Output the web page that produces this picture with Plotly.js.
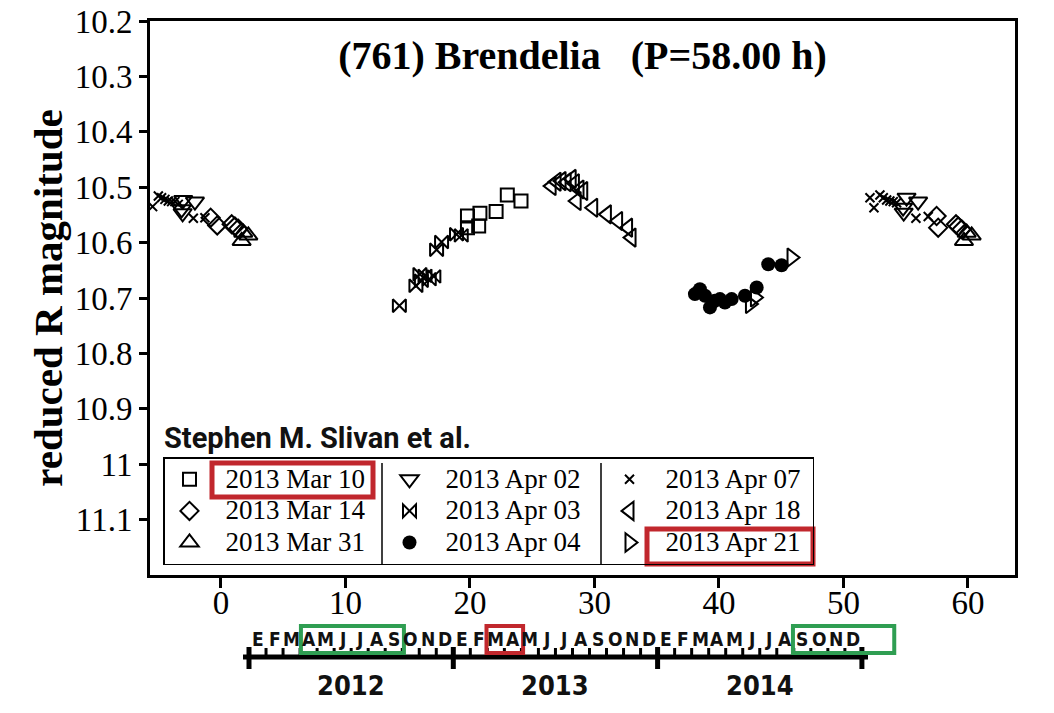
<!DOCTYPE html>
<html><head><meta charset="utf-8">
<script src="https://cdn.plot.ly/plotly-3.0.1.min.js"></script>
<style>html,body{margin:0;padding:0;background:#fff}#chart{width:1054px;height:713px}</style>
</head><body><div id="chart"></div>
<script>
// ---------------- data (rotational phase in hours, reduced R magnitude) ----------------
const mar10_x = [19.8, 19.8, 20.7, 20.8, 22.1, 23.0, 24.1];
const mar10_y = [10.552, 10.573, 10.570, 10.547, 10.544, 10.514, 10.525];

const mar14_x = [-0.83, -0.3, 0.86, 1.12, 1.39, 57.48, 57.61, 59.04, 59.22, 59.49];
const mar14_y = [10.555, 10.569, 10.567, 10.571, 10.575, 10.552, 10.573, 10.567, 10.571, 10.576];

const mar31_x = [1.79, 2.2, 1.66, 59.9, 60.3, 59.68];
const mar31_y = [10.582, 10.587, 10.597, 10.582, 10.587, 10.597];

const apr02_x = [-3.03, -2.09, -3.16, -3.08, 55.07, 56.0, 54.79, 54.84];
const apr02_y = [10.523, 10.526, 10.540, 10.547, 10.519, 10.526, 10.537, 10.546];

const apr03_x = [14.33, 15.66, 15.98, 16.10, 16.39, 16.73, 17.10, 17.32, 17.72, 18.92, 19.3];
const apr03_y = [10.714, 10.678, 10.657, 10.669, 10.660, 10.666, 10.661, 10.613, 10.599, 10.585, 10.587];

const apr04_x = [38.07, 38.47, 38.88, 39.28, 39.68, 40.08, 40.48, 41.02, 42.09, 43.03, 43.96, 45.03];
const apr04_y = [10.693, 10.684, 10.696, 10.717, 10.705, 10.702, 10.708, 10.702, 10.696, 10.681, 10.639, 10.641];

const apr07_x = [-5.49, -5.03, -4.77, -4.5, -4.23, -3.96, -3.7, -3.43, -2.22, -1.29,
                 52.13, 52.45, 52.93, 53.2, 53.47, 53.73, 54.0, 54.27, 55.82, 56.81];
const apr07_y = [10.535, 10.516, 10.519, 10.522, 10.525, 10.526, 10.526, 10.531, 10.556, 10.555,
                 10.519, 10.537, 10.514, 10.519, 10.523, 10.525, 10.526, 10.528, 10.556, 10.553];

const apr18_x = [26.56, 26.96, 27.36, 27.77, 28.17, 28.43, 28.57, 28.8, 29.1, 29.9, 31.0, 31.9, 32.7, 32.98];
const apr18_y = [10.498, 10.490, 10.489, 10.491, 10.485, 10.493, 10.525, 10.504, 10.507, 10.537, 10.549, 10.561, 10.573, 10.591];

const apr21_x = [42.49, 42.89, 45.83];
const apr21_y = [10.711, 10.699, 10.627];

const xTickVals = [0, 10, 20, 30, 40, 50, 60];
const yTickVals = [10.2, 10.3, 10.4, 10.5, 10.6, 10.7, 10.8, 10.9, 11.0, 11.1];
const yTickText = ['10.2', '10.3', '10.4', '10.5', '10.6', '10.7', '10.8', '10.9', '11', '11.1'];

const titleText = '(761) Brendelia\u00a0\u00a0\u00a0(P=58.00 h)';
const yTitleText = 'reduced R magnitude';
const authorText = 'Stephen M. Slivan et al.';

// observing-season timeline below the axis
const tlMonths = ['E', 'F', 'M', 'A', 'M', 'J', 'J', 'A', 'S', 'O', 'N', 'D'];
const tlYears = ['2012', '2013', '2014'];

// ---------------- layout helpers ----------------
const L = 150, T = 21, W = 865, H = 554;
const X = p => (p - L) / W;
const Y = p => (T + H - p) / H;
const RED = '#c1272d', GREEN = '#2f9e52';
const SERIF = 'Liberation Serif, Times New Roman, serif';
const NARROW = 'Liberation Sans Narrow, DejaVu Sans Condensed, Roboto, sans-serif';

function lg(name) { return '\u00a0\u00a0<span style="font-size:27px">' + name + '</span>'; }

function tr(x, y, name, symbol, size, rank, filled, lw) {
  const t = {
    type: 'scatter', mode: 'markers', x: x, y: y, name: lg(name), legendrank: rank,
    marker: {
      symbol: symbol, size: size, color: '#000',
      line: {color: '#000', width: filled ? 0 : 2}
    },
    hoverinfo: 'x+y'
  };
  if (lw) t.legendwidth = lw;
  return t;
}

const data = [
  tr(mar10_x, mar10_y, '2013 Mar 10', 'square-open', 13, 1),
  tr(apr02_x, apr02_y, '2013 Apr 02', 'triangle-down-open', 16, 2),
  tr(apr07_x, apr07_y, '2013 Apr 07', 'x-thin-open', 9, 3, false, 153),
  tr(mar14_x, mar14_y, '2013 Mar 14', 'diamond-open', 14, 4),
  tr(apr03_x, apr03_y, '2013 Apr 03', 'bowtie-open', 13, 5),
  tr(apr18_x, apr18_y, '2013 Apr 18', 'triangle-left-open', 16, 6, false, 153),
  tr(mar31_x, mar31_y, '2013 Mar 31', 'triangle-up-open', 16, 7),
  tr(apr04_x, apr04_y, '2013 Apr 04', 'circle', 14, 8, true),
  tr(apr21_x, apr21_y, '2013 Apr 21', 'triangle-right-open', 16, 9, false, 153)
];

const shapes = [];
const annotations = [];

// legend column dividers
[382, 601].forEach(px => shapes.push({type: 'line', xref: 'paper', yref: 'paper',
  x0: X(px), x1: X(px), y0: Y(463), y1: Y(565), line: {color: '#000', width: 1.5}, layer: 'above'}));
// red highlight boxes in legend
shapes.push({type: 'rect', xref: 'paper', yref: 'paper', x0: X(212), x1: X(373), y0: Y(497), y1: Y(463),
  line: {color: RED, width: 5}, layer: 'above'});
shapes.push({type: 'rect', xref: 'paper', yref: 'paper', x0: X(647), x1: X(813), y0: Y(564), y1: Y(529),
  line: {color: RED, width: 5}, layer: 'above'});

annotations.push({xref: 'paper', yref: 'paper', x: X(162), y: Y(438), xanchor: 'left', yanchor: 'middle',
  text: authorText, showarrow: false, font: {family: 'Roboto, DejaVu Sans, sans-serif', size: 29, color: '#111', weight: 'bold'}});

// timeline
const tlStart = 249, tlYearW = 204.3, tlMonthW = tlYearW / 12;
const tlLineY = 657;
shapes.push({type: 'line', xref: 'paper', yref: 'paper', x0: X(243), x1: X(868), y0: Y(tlLineY), y1: Y(tlLineY),
  line: {color: '#000', width: 5}});
for (let k = 0; k <= tlYears.length; k++) {
  const xp = tlStart + k * tlYearW;
  shapes.push({type: 'line', xref: 'paper', yref: 'paper', x0: X(xp), x1: X(xp), y0: Y(647), y1: Y(669),
    line: {color: '#000', width: 5}});
}
tlYears.forEach((yr, k) => {
  const ys = tlStart + k * tlYearW;
  annotations.push({xref: 'paper', yref: 'paper', x: X(ys + tlYearW / 2), y: Y(685), xanchor: 'center', yanchor: 'middle',
    text: yr, showarrow: false, font: {family: NARROW, size: 27, color: '#111', weight: 'bold'}});
  tlMonths.forEach((m, i) => {
    annotations.push({xref: 'paper', yref: 'paper', x: X(ys + (i + 0.5) * tlMonthW), y: Y(639), xanchor: 'center', yanchor: 'middle',
      text: m, showarrow: false, borderpad: 0, font: {family: NARROW, size: 19, color: '#111', weight: 'bold'}});
    if (i > 0) {
      const xp = ys + i * tlMonthW;
      shapes.push({type: 'line', xref: 'paper', yref: 'paper', x0: X(xp), x1: X(xp), y0: Y(648), y1: Y(655),
        line: {color: '#000', width: 3}});
    }
  });
});
// highlighted months (in month units from each year's start)
const tlBoxes = [
  {year: 0, from: 3.05, to: 9.1, color: GREEN},
  {year: 1, from: 1.95, to: 4.1, color: RED},
  {year: 2, from: 7.95, to: 13.9, color: GREEN}
];
tlBoxes.forEach(b => {
  const ys = tlStart + b.year * tlYearW;
  shapes.push({type: 'rect', xref: 'paper', yref: 'paper', x0: X(ys + b.from * tlMonthW), x1: X(ys + b.to * tlMonthW),
    y0: Y(653), y1: Y(626), line: {color: b.color, width: 4}, layer: 'above'});
});

const layout = {
  width: 1054, height: 713,
  margin: {l: L, r: 1054 - L - W, t: T, b: 713 - T - H, pad: 0},
  paper_bgcolor: '#fff', plot_bgcolor: '#fff',
  showlegend: true,
  title: {text: titleText, x: 582.5 / 1054, xanchor: 'center', y: 1 - 55 / 713, yanchor: 'middle',
    font: {family: SERIF, size: 40, color: '#000', weight: 'bold'}},
  xaxis: {
    range: [-5.7, 63.78], tickvals: xTickVals, ticks: 'outside', ticklen: 10, tickwidth: 3, tickcolor: '#000',
    showline: true, linewidth: 3, linecolor: '#000', mirror: true, showgrid: false, zeroline: false,
    ticklabelstandoff: -14,
    tickfont: {family: SERIF, size: 33, color: '#000'}
  },
  yaxis: {
    range: [11.2, 10.2], tickvals: yTickVals, ticktext: yTickText, ticks: 'outside', ticklen: 8, tickwidth: 3, tickcolor: '#000',
    showline: true, linewidth: 3, linecolor: '#000', mirror: true, showgrid: false, zeroline: false,
    tickfont: {family: SERIF, size: 33, color: '#000'},
    title: {text: yTitleText, font: {family: SERIF, size: 41, color: '#000', weight: 'bold'}, standoff: 0}
  },
  legend: {
    orientation: 'h', x: X(163), y: Y(565), xanchor: 'left', yanchor: 'bottom',
    bgcolor: 'rgba(0,0,0,0)', bordercolor: '#000', borderwidth: 1.5,
    font: {family: SERIF, size: 22, color: '#000'},
    entrywidth: 165, entrywidthmode: 'pixels', itemwidth: 40, traceorder: 'normal'
  },
  shapes: shapes,
  annotations: annotations
};

Plotly.newPlot('chart', data, layout, {displayModeBar: false, responsive: false});
</script>
</body></html>
